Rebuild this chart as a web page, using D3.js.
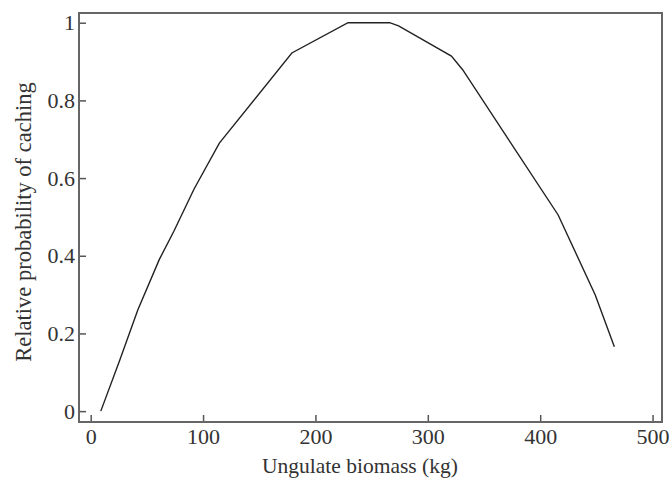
<!DOCTYPE html>
<html>
<head>
<meta charset="utf-8">
<script src="https://cdn.jsdelivr.net/npm/d3@7"></script>
<style>
  body { margin: 0; background: #fff; }
  svg text { font-family: "Liberation Serif", serif; fill: #333; }
</style>
</head>
<body>
<svg></svg>
<script>
window.onload = () => {

  const width = 670;
  const height = 480;
  const margin = {left: 79, right: 8, top: 13, bottom: 58};

  // curve
  const biomass = [9, 26, 42, 61, 74, 92, 114.5, 179, 229, 266, 274, 321, 331, 416, 449, 466];
  const probability = [0, 0.132, 0.261, 0.39, 0.463, 0.572, 0.69, 0.922, 1, 1, 0.992, 0.914, 0.879, 0.505, 0.299, 0.166];

  const xTicks = [0, 100, 200, 300, 400, 500];
  const yTicks = [0, 0.2, 0.4, 0.6, 0.8, 1];

  const data = biomass.map((b, i) => ({x: b, y: probability[i]}));

  const svg = d3.select('svg').attr('width', width).attr('height', height);

  const w = width - margin.left - margin.right;
  const h = height - margin.top - margin.bottom;

  const xScale = d3.scaleLinear().domain([-10.4, 508.4]).range([0, w]);
  const yScale = d3.scaleLinear().domain([-0.028, 1.025]).range([h, 0]);

  const g = svg.append('g').attr('transform', 'translate(' + margin.left + ',' + margin.top + ')');

  const xAxis = g.append('g')
      .attr('class', 'axisX')
      .attr('transform', 'translate(0,' + h + ')')
      .call(d3.axisBottom(xScale).tickValues(xTicks).tickSizeInner(-7).tickSizeOuter(0).tickPadding(6));

  const yAxis = g.append('g')
      .attr('class', 'axisY')
      .call(d3.axisLeft(yScale).tickValues(yTicks).tickFormat(d3.format('')).tickSizeInner(-7).tickSizeOuter(0).tickPadding(4));

  [xAxis, yAxis].forEach(a => {
    a.select('.domain').remove();
    a.selectAll('line').attr('stroke', '#555').attr('stroke-width', 1.5);
    a.selectAll('text').style('font-size', '22px').attr('fill', '#333');
  });

  // frame
  g.append('rect')
      .attr('width', w)
      .attr('height', h)
      .attr('fill', 'none')
      .attr('stroke', '#666')
      .attr('stroke-width', 2);

  const line = d3.line().x(d => xScale(d.x)).y(d => yScale(d.y));

  g.append('path')
      .datum(data)
      .attr('fill', 'none')
      .attr('stroke', '#222')
      .attr('stroke-width', 1.4)
      .attr('d', line);

  svg.append('text')
      .attr('x', 360)
      .attr('y', 473)
      .attr('text-anchor', 'middle')
      .style('font-size', '21.5px')
      .text('Ungulate biomass (kg)');

  svg.append('text')
      .attr('transform', 'translate(31,222) rotate(-90)')
      .attr('text-anchor', 'middle')
      .style('font-size', '22.5px')
      .text('Relative probability of caching');

};
</script>
</body>
</html>
